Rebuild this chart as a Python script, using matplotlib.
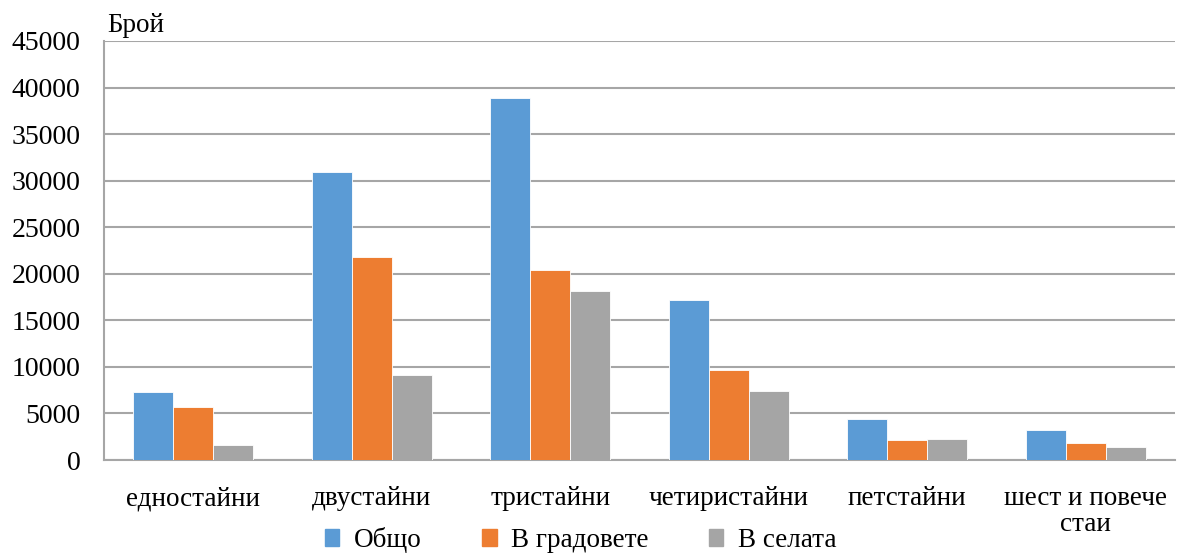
import matplotlib
matplotlib.use("Agg")
import matplotlib.pyplot as plt
from matplotlib.patches import Rectangle
import numpy as np

categories = ["едностайни", "двустайни", "тристайни", "четиристайни", "петстайни", "шест и повече\nстаи"]
total = [7350, 30950, 38890, 17150, 4350, 3180]
cities = [5700, 21800, 20450, 9650, 2100, 1820]
villages = [1600, 9150, 18150, 7430, 2280, 1390]
series_names = ["Общо", "В градовете", "В селата"]
colors = ["#5B9BD5", "#ED7D31", "#A5A5A5"]
yticks = list(range(0, 45001, 5000))

plt.rcParams['font.family'] = ['Liberation Serif', 'DejaVu Serif']

fig = plt.figure(figsize=(11.85, 5.54), dpi=100)
ax = fig.add_axes([104/1185, 1 - 460/554, (1175-104)/1185, (460-41)/554])

x = np.arange(len(categories))
w = 0.224
for i, (vals, c) in enumerate(zip([total, cities, villages], colors)):
    ax.bar(x + (i - 1) * w, vals, width=w, color=c, edgecolor="white", linewidth=0.6, zorder=3)

ax.set_xlim(-0.5, len(categories) - 0.5)
ax.set_ylim(0, 45000)
ax.set_yticks(yticks)
ax.set_yticklabels([str(t) for t in yticks], fontsize=20)
ax.set_xticks(x)
ax.set_xticklabels(categories, fontsize=19.5, linespacing=1.05, va="top")
ax.tick_params(axis="y", length=0, pad=17)
ax.tick_params(axis="x", length=0, pad=19)
ax.grid(axis="y", color="#A6A6A6", linewidth=1.5, zorder=0)
for s in ["top", "right"]:
    ax.spines[s].set_visible(False)
ax.spines["left"].set_color("#A6A6A6")
ax.spines["left"].set_linewidth(1.5)
ax.spines["bottom"].set_color("#A6A6A6")
ax.spines["bottom"].set_linewidth(1.5)

ax.text(0.003, 1.008, "Брой", transform=ax.transAxes, fontsize=19.5, ha="left", va="bottom")

handles = [Rectangle((0, 0), 1, 1, color=c) for c in colors]
fig.legend(handles, series_names, loc="center", bbox_to_anchor=(0.49, 0.025), ncol=3,
           frameon=False, fontsize=19.5, handlelength=0.55, handleheight=0.55,
           handletextpad=0.55, columnspacing=2.2, borderaxespad=0, borderpad=0)

fig.savefig("out.png", dpi=100)
